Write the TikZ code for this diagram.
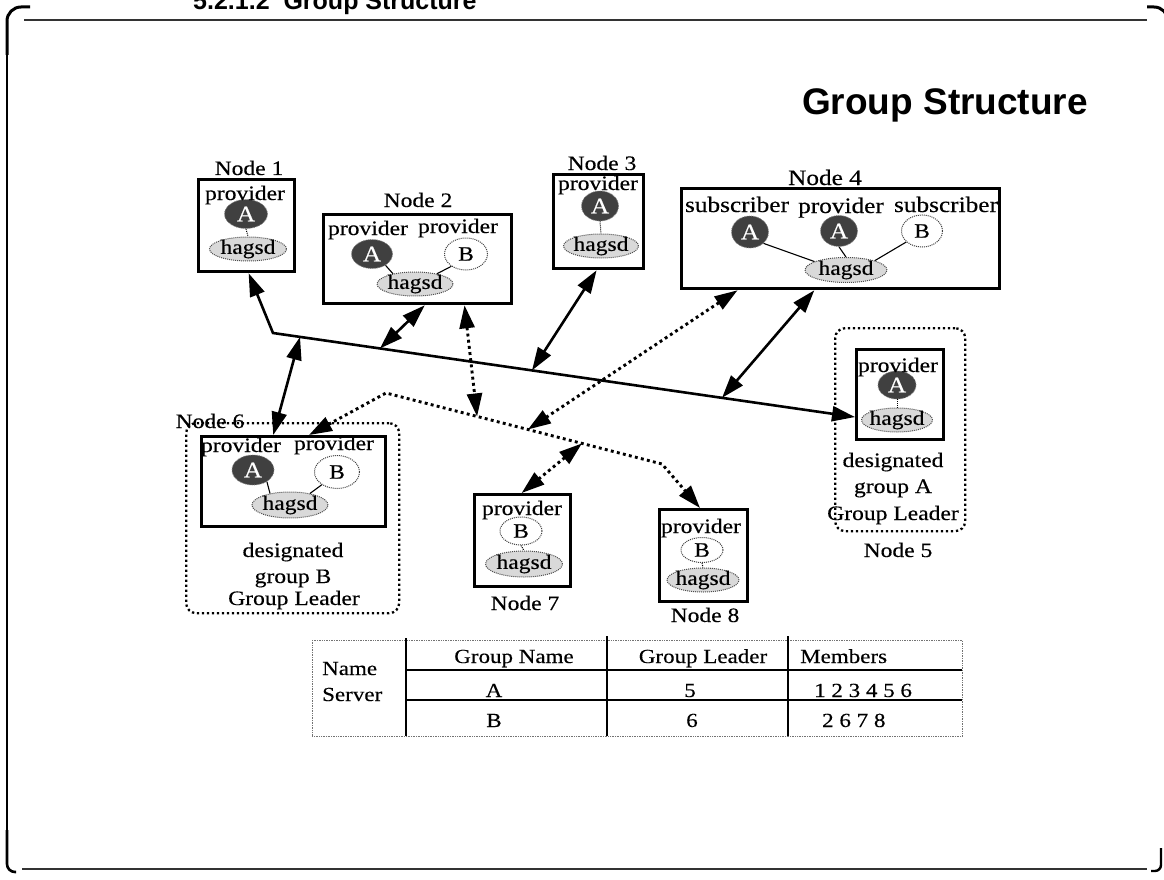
\documentclass[tikz,border=0pt]{standalone}
\usepackage{fontspec}
\setmainfont{Liberation Serif}[FakeStretch=1.15, FakeBold=0.3]
\newfontfamily\hvfont{Liberation Sans}
\usetikzlibrary{arrows.meta,shapes.geometric,calc}
\newcommand\nf{\fontsize{20.5}{22}\selectfont}
\newcommand\nfl{\fontsize{22}{24}\selectfont}
\begin{document}
\begin{tikzpicture}[x=1pt,y=-1pt,
  >={Triangle[length=23pt,width=15pt]},
  nbox/.style={draw, line width=3.3pt, inner sep=0pt, anchor=north west},
  grpbox/.style={draw, line width=2.3pt, dash pattern=on 2.3pt off 2.7pt, rounded corners=10pt, inner sep=0pt, anchor=north west},
  lbl/.style={font=\nf, inner sep=0pt, anchor=base},
  lblb/.style={font=\nfl, inner sep=0pt, anchor=base},
  dka/.style={ellipse, inner sep=0pt, fill=black!75, draw=black!50, densely dotted, line width=0.8pt, text=white, font=\fontsize{22}{22}\selectfont},
  lgb/.style={ellipse, inner sep=0pt, fill=white, draw=black!75, densely dotted, line width=1pt, font=\nf},
  hag/.style={ellipse, inner sep=0pt, fill=black!15, draw=black!70, densely dotted, line width=1pt},
  htxt/.style={font=\nf, inner sep=0pt},
  lnk/.style={line width=1.1pt},
  tick/.style={line width=1pt, densely dotted},
  sol/.style={line width=2.6pt, <->},
  dotl/.style={line width=2.9pt, dash pattern=on 2.9pt off 3.3pt, <->},
  tfont/.style={font=\fontsize{20}{22}\selectfont, inner sep=0pt, anchor=base},
  frame/.style={line width=1.3pt, black!80},
  corner/.style={line width=3pt, rounded corners=14pt}
]
\fill[white] (0,0) rectangle (1164,880);
\useasboundingbox (0,0) rectangle (1164,880);

% ---------- page frame ----------
\node[font=\hvfont\bfseries\fontsize{25}{25}\selectfont, anchor=base west, inner sep=0pt] (head) at (193,10) {5.2.1.2\ \ Group Structure};
\draw[frame] (24,20) -- (1147,20);
\draw[corner] (7,55) -- (7,7) -- (30,7);
\draw[corner] (1147,7) -- (1168,7) -- (1168,40);
\draw[line width=1.2pt] (7,55) -- (7,835);
\draw[line width=2.6pt, rounded corners=8pt] (7,830) -- (7,872) -- (16,872);
\draw[frame] (22,869) -- (1147,869);
\draw[line width=2.4pt, rounded corners=6pt] (1161,848) -- (1161,871) -- (1151,871);

% ---------- title ----------
\node[font=\hvfont\bfseries\fontsize{37}{37}\selectfont, anchor=base east, inner sep=0pt] (title) at (1088,115) {Group Structure};

% ---------- Node 1 ----------
\node[nbox, minimum width=96pt, minimum height=92pt] (n1) at (197,178) {};
\node[lbl] (n1l) at (249,175) {Node 1};
\node[dka, minimum width=43pt, minimum height=29pt] (n1a) at (246,214) {A};
\node[hag, minimum width=77pt, minimum height=24pt] (n1h) at (248,249) {};
\node[htxt] (n1ht) at (n1h) {hagsd};
\node[lbl] (n1p) at (245,200) {provider};
\draw[tick] (n1a.south) -- (n1h.north);

% ---------- Node 2 ----------
\node[nbox, minimum width=188pt, minimum height=89pt] (n2) at (322,213) {};
\node[lbl] (n2l) at (418,207) {Node 2};
\node[dka, minimum width=41pt, minimum height=29pt] (n2a) at (372,254) {A};
\node[lgb, minimum width=43pt, minimum height=32pt] (n2b) at (466,254) {B};
\node[hag, minimum width=76pt, minimum height=24pt] (n2h) at (415,284) {};
\node[htxt] (n2ht) at (n2h) {hagsd};
\node[lbl] (n2p1) at (368,235) {provider};
\node[lbl] (n2p2) at (458,233) {provider};
\draw[lnk] (n2a.-40) -- (n2h.155);
\draw[lnk] (n2b.220) -- (n2h.25);

% ---------- Node 3 ----------
\node[nbox, minimum width=90pt, minimum height=94pt] (n3) at (552,173) {};
\node[lbl] (n3l) at (602,170) {Node 3};
\node[dka, minimum width=37pt, minimum height=30pt] (n3a) at (600,206) {A};
\node[hag, minimum width=75pt, minimum height=24pt] (n3h) at (601,246) {};
\node[htxt] (n3ht) at (n3h) {hagsd};
\node[lbl] (n3p) at (598,190) {provider};
\draw[tick] (n3a.south) -- (n3h.north);

% ---------- Node 4 ----------
\node[nbox, minimum width=318pt, minimum height=100pt] (n4) at (680,187) {};
\node[lblb] (n4l) at (825,185) {Node 4};
\node[dka, minimum width=37pt, minimum height=32pt] (n4a1) at (750,232) {A};
\node[dka, minimum width=37pt, minimum height=31pt] (n4a2) at (839,231) {A};
\node[lgb, minimum width=41pt, minimum height=32pt] (n4b) at (922,231) {B};
\node[hag, minimum width=82pt, minimum height=25pt] (n4h) at (846,270) {};
\node[htxt] (n4ht) at (n4h) {hagsd};
\node[lblb] (n4s1) at (737,212) {subscriber};
\node[lblb] (n4p) at (841,213) {provider};
\node[lblb] (n4s2) at (946,212) {subscriber};
\draw[lnk] (n4a1.-40) -- (n4h.165);
\draw[lnk] (n4a2.south) -- (n4h.north);
\draw[lnk] (n4b.215) -- (n4h.18);

% ---------- Node 5 ----------
\node[grpbox, minimum width=130pt, minimum height=203pt] (g5) at (834,327) {};
\node[nbox, minimum width=87pt, minimum height=90pt] (n5in) at (855,348) {};
\node[dka, minimum width=38pt, minimum height=28pt] (n5a) at (897,385) {A};
\node[hag, minimum width=71pt, minimum height=24pt] (n5h) at (897,420) {};
\node[htxt] (n5ht) at (n5h) {hagsd};
\node[lbl] (n5p) at (898,372) {provider};
\draw[tick] (n5a.south) -- (n5h.north);
\node[lbl] (n5d1) at (893,467) {designated};
\node[lbl] (n5d2) at (893,493) {group A};
\node[lbl] (n5d3) at (893,520) {Group Leader};
\node[lbl] (n5l) at (898,557) {Node 5};

% ---------- Node 6 ----------
\node[grpbox, minimum width=213pt, minimum height=190pt] (g6) at (185,422) {};
\node[lbl] (n6l) at (210,428) {Node 6};
\node[nbox, minimum width=184pt, minimum height=90pt] (n6in) at (200,435) {};
\node[dka, minimum width=42pt, minimum height=30pt] (n6a) at (253,470) {A};
\node[lgb, minimum width=45pt, minimum height=33pt] (n6b) at (337,472) {B};
\node[hag, minimum width=76pt, minimum height=26pt] (n6h) at (290,505) {};
\node[htxt] (n6ht) at (n6h) {hagsd};
\node[lbl] (n6p1) at (241,452) {provider};
\node[lbl] (n6p2) at (334,450) {provider};
\draw[lnk] (n6a.-40) -- (n6h.150);
\draw[lnk] (n6b.220) -- (n6h.30);
\node[lbl] (n6d1) at (293,557) {designated};
\node[lbl] (n6d2) at (293,583) {group B};
\node[lbl] (n6d3) at (294,605) {Group Leader};

% ---------- Node 7 ----------
\node[nbox, minimum width=96pt, minimum height=92pt] (n7) at (473,493) {};
\node[lgb, minimum width=42pt, minimum height=28pt] (n7b) at (521,531) {B};
\node[hag, minimum width=77pt, minimum height=26pt] (n7h) at (524,564) {};
\node[htxt] (n7ht) at (n7h) {hagsd};
\node[lbl] (n7p) at (522,515) {provider};
\draw[tick] (n7b.south) -- (n7h.north);
\node[lbl] (n7l) at (525,610) {Node 7};

% ---------- Node 8 ----------
\node[nbox, minimum width=88pt, minimum height=92pt] (n8) at (658,508) {};
\node[lgb, minimum width=42pt, minimum height=25pt] (n8b) at (702,550) {B};
\node[hag, minimum width=72pt, minimum height=24pt] (n8h) at (703,580) {};
\node[htxt] (n8ht) at (n8h) {hagsd};
\node[lbl] (n8p) at (701,533) {provider};
\draw[tick] (n8b.south) -- (n8h.north);
\node[lbl] (n8l) at (705,622) {Node 8};

% ---------- solid bus ----------
\coordinate (bend) at (273,333);
\coordinate (b5) at ($(n5in.north west)!0.74!(n5in.south west)$);
\coordinate (n1b) at ($(n1.south west)!0.52!(n1.south east)$);
\coordinate (bb6) at ($(bend)!0.0464!(b5)$);
\coordinate (bb2) at ($(bend)!0.1838!(b5)$);
\coordinate (bb3) at ($(bend)!0.445!(b5)$);
\coordinate (bb4) at ($(bend)!0.7715!(b5)$);
\coordinate (n2s) at ($(n2.south west)!0.537!(n2.south east)$);
\coordinate (n3s) at ($(n3.south west)!0.478!(n3.south east)$);
\coordinate (n4s) at ($(n4.south west)!0.418!(n4.south east)$);
\coordinate (n6s) at ($(n6in.north west)!0.391!(n6in.north east)$);
\draw[sol] (n1b) -- (bend) -- (b5);
\draw[sol] (bb6) -- (n6s);
\draw[sol] (bb2) -- (n2s);
\draw[sol] (bb3) -- (n3s);
\draw[sol] (bb4) -- (n4s);

% ---------- dotted group B network ----------
\coordinate (pk) at (386,393);
\coordinate (bd8) at (662,464);
\coordinate (j2) at ($(pk)!0.33!(bd8)$);
\coordinate (j4) at ($(pk)!0.514!(bd8)$);
\coordinate (j7) at ($(pk)!0.71!(bd8)$);
\coordinate (n6d) at ($(n6in.north west)!0.582!(n6in.north east)$);
\coordinate (n8t) at ($(n8.north west)!0.46!(n8.north east)$);
\coordinate (n2d) at ($(n2.south west)!0.745!(n2.south east)$);
\coordinate (n4d) at ($(n4.south west)!0.179!(n4.south east)$);
\coordinate (n7t) at ($(n7.north west)!0.49!(n7.north east)$);
\draw[dotl] (n6d) -- (pk) -- (bd8) -- (n8t);
\draw[dotl] (n2d) -- (j2);
\draw[dotl] (n4d) -- (j4);
\draw[dotl] (j7) -- (n7t);

% ---------- name server table ----------
\node[draw=black!55, densely dotted, line width=0.7pt, minimum width=650pt, minimum height=96pt, anchor=north west, inner sep=0pt] (tb) at (312,640) {};
\draw[line width=1.4pt] (406,638) -- (406,736);
\draw[line width=1.4pt] (607,636) -- (607,736);
\draw[line width=1.4pt] (788,636) -- (788,736);
\draw[line width=2.7pt] (406,670) -- (962,670);
\draw[line width=2.7pt] (406,700) -- (962,700);
\node[tfont, anchor=base west] (tname) at (322,675) {Name};
\node[tfont, anchor=base west] (tserv) at (322,701) {Server};
\node[tfont] (th1) at (514,663) {Group Name};
\node[tfont] (th2) at (703,663) {Group Leader};
\node[tfont, anchor=base west] (th3) at (800,663) {Members};
\node[tfont] (ta1) at (494,697) {A};
\node[tfont] (ta2) at (690,697) {5};
\node[tfont, anchor=base west] (ta3) at (814,697) {1 2 3 4 5 6};
\node[tfont] (tb1) at (494,727) {B};
\node[tfont] (tb2) at (692,727) {6};
\node[tfont, anchor=base west] (tb3) at (822,727) {2 6 7 8};
\end{tikzpicture}
\end{document}
